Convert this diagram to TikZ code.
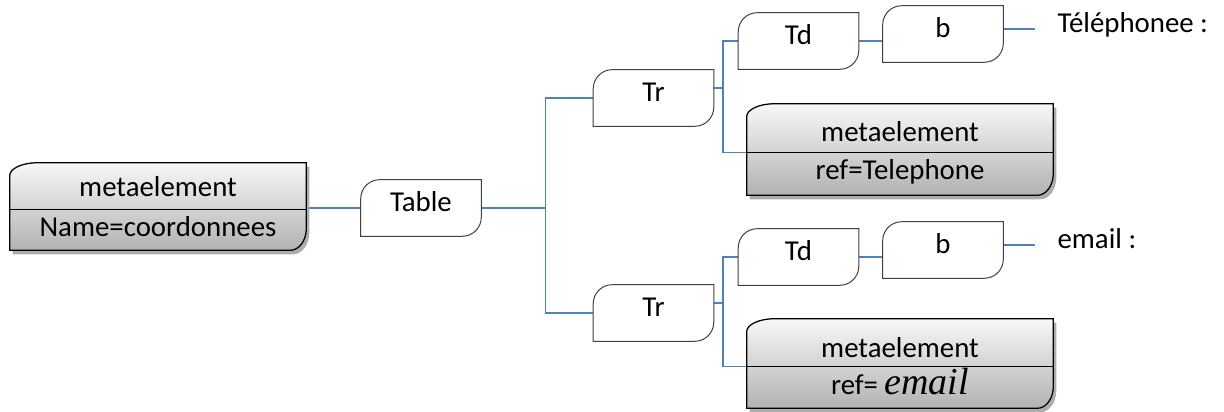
\documentclass[tikz,border=0pt]{standalone}
\usepackage{fontspec}
\setmainfont{Carlito}
\newfontfamily\serifit{Liberation Serif}
\definecolor{wireblue}{HTML}{4F81BD}

% outline of a plain box: rounded top-left and bottom-right corners
\newcommand\leafoutline[1]{(#1.south west) -- ([yshift=-0.475cm]#1.north west)
  arc[start angle=180,end angle=90,radius=0.475cm] -- (#1.north east)
  -- ([yshift=0.475cm]#1.south east) arc[start angle=0,end angle=-90,radius=0.475cm] -- cycle}
% outline of a two-part box, optionally offset (for its shadow)
\newcommand\metaoutline[3]{([xshift=#2,yshift=#3]#1.south west)
  -- ([xshift=#2,yshift=#3,yshift=-0.325cm]#1.north west)
  arc[start angle=180,end angle=90,x radius=0.7cm,y radius=0.325cm]
  -- ([xshift=#2,yshift=#3]#1.north east)
  -- ([xshift=#2,yshift=#3,yshift=0.55cm]#1.south east)
  arc[start angle=0,end angle=-90,x radius=0.4cm,y radius=0.55cm] -- cycle}
\newcommand\labelfont{\fontsize{20.5}{24}\selectfont}

\begin{document}
\begin{tikzpicture}[x=0.025cm,y=0.025cm,
  leaf/.style={minimum width=3cm, minimum height=1.4cm, inner sep=0pt,
    font=\labelfont, text height=0.65em, text depth=0.2em},
  meta/.style={inner sep=0pt},
  metatext/.style={inner sep=0pt, font=\labelfont, text height=0.65em, text depth=0.2em},
  sidetext/.style={inner sep=0pt, anchor=west, font=\labelfont, text height=0.65em, text depth=0.2em},
  wire/.style={draw=wireblue, line width=1pt},
  leafline/.style={draw=black!75, line width=0.7pt, fill=white},
  metaline/.style={draw=black, line width=0.9pt, top color=white!97!black, bottom color=black!30},
  shadowfill/.style={fill=black!32, draw=none}
]
\fill[white] (0,0) rectangle (1224,412);
\useasboundingbox (0,0) rectangle (1224,412);

% plain boxes
\node[leaf] (table) at (421,204) {};
\node[leaf] (tr1) at (653.5,314) {};
\node[leaf] (tr2) at (653.5,99) {};
\node[leaf] (td1) at (798.5,371) {};
\node[leaf] (b1) at (943,378) {};
\node[leaf] (td2) at (798.5,155) {};
\node[leaf] (b2) at (943,162) {};

% two-part boxes
\node[meta, minimum width=7.4cm, minimum height=2.175cm] (meta1) at (158,205.5) {};
\node[meta, minimum width=7.65cm, minimum height=2.275cm] (meta2) at (900,262.5) {};
\node[meta, minimum width=7.65cm, minimum height=2.225cm] (meta3) at (900,48.5) {};

% connectors
\draw[wire] (table.west -| meta1.east) -- (table.west);
\draw[wire] (table.east) -- ++(64,0) coordinate (j1) |- (tr1.west);
\draw[wire] (j1) |- (tr2.west);
\draw[wire] ([yshift=0.25cm]tr1.east) -- ++(9,0) coordinate (j2) |- (td1.west);
\draw[wire] (j2) |- ([yshift=-0.07cm]meta2.west);
\draw[wire] (td1.east) -- (td1.east -| b1.west);
\draw[wire] ([yshift=0.125cm]b1.east) -- ++(32,0) coordinate (t1);
\draw[wire] ([yshift=0.25cm]tr2.east) -- ++(9,0) coordinate (j3) |- (td2.west);
\draw[wire] (j3) |- ([yshift=-0.07cm]meta3.west);
\draw[wire] (td2.east) -- (td2.east -| b2.west);
\draw[wire] ([yshift=0.125cm]b2.east) -- ++(32,0) coordinate (t2);

% box outlines
\foreach \n in {table,tr1,tr2,td1,td2,b1,b2}
  \draw[leafline] \leafoutline{\n};
\foreach \n in {meta1,meta2,meta3}{
  \fill[shadowfill] \metaoutline{\n}{0.075cm}{-0.1cm};
  \draw[metaline] \metaoutline{\n}{0cm}{0cm};
  \draw[line width=0.9pt] ([yshift=-0.07cm]\n.west) -- ([yshift=-0.07cm]\n.east);
}

% labels
\node[metatext] (tablet) at (table) {Table};
\node[metatext] (tr1t) at (tr1) {Tr};
\node[metatext] (tr2t) at (tr2) {Tr};
\node[metatext] (td1t) at (td1) {Td};
\node[metatext] (td2t) at (td2) {Td};
\node[metatext] (b1t) at (b1) {b};
\node[metatext] (b2t) at (b2) {b};
\node[metatext] (meta1a) at (158,219) {metaelement};
\node[metatext] (meta1b) at (158,178.5) {Name=coordonnees};
\node[metatext] (meta2a) at (900,274) {metaelement};
\node[metatext] (meta2b) at (900,236) {ref=Telephone};
\node[metatext] (meta3a) at (900,58) {metaelement};
\node[metatext] (meta3b) at (900,20.5) {ref= {\serifit\itshape\fontsize{27}{30}\selectfont email}};
\node[sidetext] (tel) at ([xshift=0.55cm]t1) {Téléphonee :};
\node[sidetext] (mail) at ([xshift=0.55cm]t2) {email :};
\end{tikzpicture}
\end{document}
